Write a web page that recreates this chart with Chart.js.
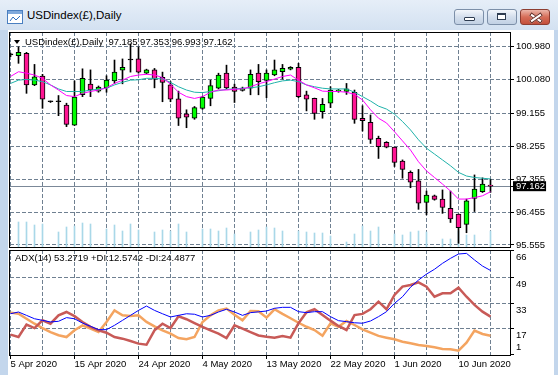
<!DOCTYPE html>
<html>
<head>
<meta charset="utf-8">
<title>USDindex(£),Daily</title>
<script src="https://cdn.jsdelivr.net/npm/chart.js@4.4.1/dist/chart.umd.min.js"></script>
<style>
  html, body { margin: 0; padding: 0; }
  body { width: 558px; height: 375px; overflow: hidden; position: relative;
         background: #c3d6ec; font-family: "Liberation Sans", Arial, sans-serif; }
  #barra { position: absolute; left: 0; top: 0; width: 558px; height: 30px;
           background: linear-gradient(#e6eef8, #d3e1f1); }
  #titulo { position: absolute; left: 27px; top: 9px; font-size: 11.5px; color: #000; }
  #icone { position: absolute; left: 7px; top: 10px; }
  .botao { position: absolute; top: 9px; width: 28px; height: 14px; border: 1px solid #7c8fa8; border-radius: 3px;
           background: linear-gradient(#f3f6fb, #d3deec 50%, #c2d1e4); }
  #fechar { background: linear-gradient(#ecb6a9, #d66d58 50%, #c4503c); border-color: #8d3d31; }
  #cliente { position: absolute; left: 8px; top: 30px; width: 546px; height: 345px; background: #fff; }
  canvas { position: absolute; left: 0; }
  #cvPreco { top: 32px; }
  #cvAdx { top: 248px; }
  .rotulo { position: absolute; font-size: 9.5px; color: #000; white-space: pre; line-height: 11px; z-index: 5; }
</style>
</head>
<body>
<div id="barra"></div>
<svg id="icone" width="16" height="14">
  <rect x="0.5" y="0.5" width="15" height="13" fill="#fff" stroke="#4a7fc0"/>
  <rect x="1" y="1" width="14" height="3" fill="#7fa9dc"/>
  <polyline points="3,11 6,7 9,10 13,6" fill="none" stroke="#2f6fc0" stroke-width="1"/>
</svg>
<div id="titulo">USDindex(£),Daily</div>
<div class="botao" style="left:454px"><div style="position:absolute;left:9px;top:7px;width:9px;height:2px;border:1px solid #2e3c50;background:#fff;border-radius:1px"></div></div>
<div class="botao" style="left:487px"><div style="position:absolute;left:9px;top:3px;width:7px;height:4px;border:1px solid #2e3c50;border-top-width:2px;background:#fff"></div></div>
<div class="botao" id="fechar" style="left:520px">
  <div style="position:absolute;left:8px;top:6px;width:12px;height:2px;background:#fff;border:1px solid #6b2a20;transform:rotate(35deg)"></div>
  <div style="position:absolute;left:8px;top:6px;width:12px;height:2px;background:#fff;border:1px solid #6b2a20;transform:rotate(-35deg)"></div>
</div>
<div id="cliente"></div>

<canvas id="cvPreco" width="558" height="216"></canvas>
<canvas id="cvAdx" width="558" height="127"></canvas>

<div style="position:absolute;left:14px;top:40px;width:0;height:0;border-left:3px solid transparent;border-right:3px solid transparent;border-top:4px solid #000;z-index:5"></div>
<div class="rotulo" style="left:25px;top:36px">USDindex(£),Daily  97.185 97.353 96.993 97.162</div>
<div class="rotulo" style="left:15px;top:252px">ADX(14) 53.2719 +DI:12.5742 -DI:24.4877</div>

<script>
// barras diarias (domingos incluidos, como no MT4)
const datas = ['5 Apr 2020','6 Apr 2020','7 Apr 2020','8 Apr 2020','9 Apr 2020','12 Apr 2020','13 Apr 2020','14 Apr 2020','15 Apr 2020','16 Apr 2020',
  '17 Apr 2020','19 Apr 2020','20 Apr 2020','21 Apr 2020','22 Apr 2020','23 Apr 2020','24 Apr 2020','26 Apr 2020','27 Apr 2020','28 Apr 2020',
  '29 Apr 2020','30 Apr 2020','1 May 2020','3 May 2020','4 May 2020','5 May 2020','6 May 2020','7 May 2020','8 May 2020','10 May 2020',
  '11 May 2020','12 May 2020','13 May 2020','14 May 2020','15 May 2020','17 May 2020','18 May 2020','19 May 2020','20 May 2020','21 May 2020',
  '22 May 2020','24 May 2020','25 May 2020','26 May 2020','27 May 2020','28 May 2020','29 May 2020','31 May 2020','1 Jun 2020','2 Jun 2020',
  '3 Jun 2020','4 Jun 2020','5 Jun 2020','7 Jun 2020','8 Jun 2020','9 Jun 2020','10 Jun 2020','11 Jun 2020','12 Jun 2020','14 Jun 2020',
  '15 Jun 2020'];

const aberturas = [100.75,100.73,100.79,99.93,100.17,99.47,99.47,99.38,98.83,99.66,
  99.95,99.76,99.85,100.04,100.33,100.61,100.64,100.25,100.34,100.14,
  99.93,99.55,99.14,99.02,99.29,99.56,99.84,100.25,99.87,99.78,
  99.84,100.25,100.05,100.20,100.29,100.36,100.41,99.66,99.56,99.20,
  99.43,99.76,99.75,99.73,99.02,98.91,98.47,98.36,98.23,97.85,
  97.54,97.31,96.72,96.90,96.81,96.56,96.40,96.12,96.83,97.01,
  97.185];
const maximas = [100.80,100.97,100.82,100.49,100.22,99.49,99.64,99.43,100.04,100.37,
  100.34,99.90,100.18,100.61,100.64,101.05,100.97,100.36,100.38,100.28,
  100.02,99.76,99.25,99.34,99.62,100.06,100.25,100.47,99.95,99.87,
  100.34,100.49,100.34,100.61,100.49,100.43,100.52,99.76,99.57,99.56,
  99.88,99.81,99.97,99.79,99.36,99.11,98.53,98.38,98.23,97.88,
  97.58,97.62,97.03,96.92,97.06,97.03,96.40,96.81,97.47,97.39,
  97.353];
const minimas = [100.70,100.52,99.70,99.91,99.29,99.45,99.09,98.79,98.82,99.61,
  99.61,99.73,99.73,99.97,99.96,100.28,100.25,100.23,99.85,99.47,
  99.47,98.82,98.76,98.99,99.26,99.36,99.82,99.82,99.45,99.76,
  99.66,99.66,99.58,100.18,100.09,100.34,99.58,99.22,98.99,99.02,
  99.31,99.73,99.67,98.88,98.67,98.33,97.92,98.21,97.70,97.38,
  97.12,96.53,96.38,96.78,96.42,96.17,95.60,95.89,96.47,96.99,
  96.993];
const fechamentos = [100.75,100.82,99.93,100.15,99.54,99.47,99.47,98.85,99.60,100.11,
  99.79,99.87,100.06,100.28,100.41,100.61,100.28,100.34,100.09,100.00,
  99.54,99.02,99.05,99.31,99.60,99.91,100.20,99.85,99.75,99.84,
  100.22,100.02,100.25,100.34,100.38,100.41,99.61,99.54,99.15,99.40,
  99.79,99.79,99.82,98.99,98.95,98.44,98.24,98.23,97.81,97.62,
  97.27,96.70,96.92,96.80,96.58,96.27,96.03,96.76,97.08,97.22,
  97.162];
const volumes = [100,2600,2600,2300,2400,100,1600,2100,2200,2500,
  2400,100,1900,2300,1700,2400,1800,100,1600,1800,
  1700,2400,1600,100,1900,1900,1700,2000,1400,100,
  1600,1800,2100,2000,1700,100,1700,1600,1500,1500,
  1200,100,600,1400,2200,1700,2100,100,1400,1300,
  1600,1700,1600,100,900,900,1700,1300,1300,100,
  1700];

// medias moveis (magenta = rapida, verde-agua = lenta)
const mediaRapida = [100.16,100.29,100.25,100.20,100.11,99.93,99.79,99.64,99.61,99.70,
  99.75,99.79,99.85,99.97,100.06,100.16,100.20,100.22,100.20,100.13,
  99.95,99.73,99.61,99.56,99.61,99.73,99.79,99.79,99.81,99.82,
  99.88,99.96,100.02,100.09,100.16,100.20,100.06,99.93,99.85,99.76,
  99.75,99.75,99.73,99.67,99.52,99.25,99.02,98.89,98.65,98.40,
  98.15,97.83,97.58,97.40,97.22,97.03,96.81,96.81,96.85,96.90,
  97.01];
const mediaLenta = [99.97,100.06,100.08,100.06,100.02,99.93,99.82,99.75,99.75,99.75,
  99.79,99.81,99.84,99.93,100.00,100.06,100.07,100.11,100.11,100.09,
  100.00,99.88,99.79,99.73,99.72,99.75,99.77,99.81,99.82,99.84,
  99.85,99.88,99.93,99.99,100.04,100.06,100.02,99.93,99.88,99.84,
  99.82,99.82,99.82,99.73,99.61,99.49,99.35,99.27,99.13,98.93,
  98.70,98.43,98.20,98.04,97.88,97.72,97.54,97.44,97.40,97.38,
  97.36];

// ADX(14)
const adx = [26.3,27.4,25.3,23.2,22.2,21.2,21.6,23.9,23.2,20.5,
  18.5,16.4,16.4,19.1,22.2,25.3,28.4,31.1,28.4,26.3,
  24.3,25.3,26.3,26.0,24.3,25.3,27.4,29.1,27.4,25.3,
  27.0,27.5,28.0,29.7,30.3,30.3,27.6,27.0,27.6,27.6,
  24.5,22.0,21.4,20.7,20.4,21.8,24.5,27.6,32.8,36.9,
  42.8,47.3,51.0,54.0,57.7,60.8,63.5,63.9,59.8,56.0,
  53.2719];
const diMais = [27.0,26.3,23.2,20.1,17.4,14.9,12.9,11.8,16.0,19.1,
  17.0,14.9,21.2,28.4,25.3,24.9,25.3,21.2,18.5,16.0,
  13.9,11.2,10.4,11.8,21.2,25.3,28.4,29.5,25.7,22.2,
  28.0,27.8,23.9,29.1,26.2,23.5,20.7,18.2,16.2,12.6,
  20.4,18.2,21.8,19.3,16.6,14.5,12.5,11.4,10.4,8.9,
  7.9,6.8,6.2,5.4,4.4,4.2,3.3,8.3,15.8,13.7,
  12.5742];
const diMenos = [13.3,11.8,19.5,17.4,22.2,20.1,25.3,27.4,24.9,21.2,
  18.1,16.0,14.5,11.8,10.8,9.3,7.7,7.0,16.0,20.1,
  17.4,24.7,22.9,20.5,18.1,16.0,13.9,11.2,19.1,17.0,
  14.9,12.8,12.0,11.4,12.5,11.4,20.4,27.2,29.1,25.5,
  22.0,18.7,16.2,25.5,26.2,29.1,33.8,29.1,38.0,43.2,
  44.2,45.9,43.2,36.9,39.0,39.0,42.5,36.9,31.8,27.6,
  24.4877];

const ticksPreco = [95.555, 96.455, 97.355, 98.255, 99.155, 100.080, 100.980];
const ticksAdx = [1, 17, 33, 49, 66];
const precoAtual = 97.162;

const fonteMT = 'Liberation Sans';
const corGrade = '#6f8091';
const tracoGrade = [4, 2];
const passoGrade = 4; // linha vertical a cada 4 barras
const passoData = 8;  // data a cada 8 barras

// marcas do eixo X (indices das barras)
const marcasX = [];
for (let i = 0; i < datas.length; i += passoGrade) marcasX.push(i);

// desloca meio pixel para os pavios ficarem nitidos
const xMin = -0.0625;
const xMax = 62.4375;

// moldura preta + linha do preco atual
const moldura = {
  id: 'moldura',
  beforeDatasetsDraw(chart, args, opts) {
    if (opts.linhaPreco === undefined) return;
    const a = chart.chartArea, ctx = chart.ctx;
    const y = Math.round(chart.scales.y.getPixelForValue(opts.linhaPreco) - 0.5) + 0.5;
    ctx.save();
    ctx.strokeStyle = '#7b8898';
    ctx.lineWidth = 1;
    ctx.beginPath();
    ctx.moveTo(a.left, y);
    ctx.lineTo(a.right, y);
    ctx.stroke();
    ctx.restore();
  },
  afterDatasetsDraw(chart) {
    const a = chart.chartArea, ctx = chart.ctx;
    ctx.save();
    ctx.strokeStyle = '#000';
    ctx.lineWidth = 1;
    ctx.strokeRect(a.left - 0.5, a.top + 0.5, a.right - a.left + 1, a.bottom - a.top - 1);
    ctx.restore();
  }
};

// eixo com tamanho fixo, sem folga extra para os rotulos
function fixarEixo(largura, altura) {
  return s => {
    if (largura !== null) s.width = largura;
    if (altura !== null) s.height = altura;
    s.paddingTop = 0;
    s.paddingBottom = 0;
    s.paddingLeft = 0;
    s.paddingRight = 0;
  };
}

function pontos(lista) {
  return lista.map((v, i) => ({x: i, y: v}));
}

function gerarGraficoPreco() {
  const ctx = document.getElementById('cvPreco').getContext('2d');

  const corpos = aberturas.map((o, i) => ({x: i, y: [o, fechamentos[i]]}));
  const pavios = minimas.map((l, i) => ({x: i, y: [l, maximas[i]]}));
  const coresCorpo = aberturas.map((o, i) =>
    fechamentos[i] > o ? '#00ff00' : (fechamentos[i] < o ? '#ff1493' : '#000000'));

  new Chart(ctx, {
    type: 'line',
    data: {
      datasets: [
        { type: 'line', data: pontos(mediaRapida), borderColor: '#ff00ff', borderWidth: 1,
          pointRadius: 0, tension: 0, order: 1 },
        { type: 'line', data: pontos(mediaLenta), borderColor: '#20b2aa', borderWidth: 1,
          pointRadius: 0, tension: 0, order: 2 },
        { type: 'bar', data: corpos, backgroundColor: coresCorpo, borderColor: '#000',
          borderWidth: 1, borderSkipped: false, barThickness: 5, minBarLength: 1,
          grouped: false, order: 3 },
        { type: 'bar', data: pavios, backgroundColor: '#000', borderWidth: 0,
          barThickness: 1, grouped: false, order: 4 },
        { type: 'bar', data: pontos(volumes), yAxisID: 'vol', backgroundColor: '#a9d8e8',
          borderWidth: 0, barThickness: 1, grouped: false, order: 5 }
      ]
    },
    options: {
      responsive: false,
      animation: false,
      devicePixelRatio: 1,
      layout: { padding: { left: 10, top: 0, right: 0, bottom: 0 } },
      plugins: {
        legend: { display: false },
        tooltip: { enabled: false },
        moldura: { linhaPreco: precoAtual }
      },
      scales: {
        x: {
          type: 'linear', min: xMin, max: xMax, offset: false, bounds: 'data',
          afterBuildTicks: s => { s.ticks = marcasX.map(v => ({value: v})); },
          afterFit: fixarEixo(null, 0),
          ticks: { display: false },
          grid: { color: corGrade, drawTicks: false, offset: false },
          border: { display: false, dash: tracoGrade }
        },
        y: {
          type: 'linear', position: 'right', min: 95.473, max: 101.376, bounds: 'data',
          afterBuildTicks: s => { s.ticks = ticksPreco.concat([precoAtual]).map(v => ({value: v})); },
          afterFit: fixarEixo(48, null),
          ticks: {
            autoSkip: false,
            padding: 2,
            font: { family: fonteMT, size: 9.5, lineHeight: 1.05 },
            color: c => c.tick.value === precoAtual ? '#fff' : '#000',
            showLabelBackdrop: c => c.tick.value === precoAtual,
            backdropColor: '#000',
            backdropPadding: { top: 0, bottom: 0, left: 3, right: 1 },
            callback: v => v.toFixed(3)
          },
          grid: {
            color: c => c.tick.value === precoAtual ? 'rgba(0,0,0,0)' : corGrade,
            tickColor: '#000',
            tickLength: 4
          },
          border: { display: false, dash: tracoGrade }
        },
        vol: { type: 'linear', display: false, min: 0, max: 21600 }
      }
    },
    plugins: [moldura]
  });
}

function gerarGraficoAdx() {
  const ctx = document.getElementById('cvAdx').getContext('2d');

  new Chart(ctx, {
    type: 'line',
    data: {
      datasets: [
        { data: pontos(adx), borderColor: '#0000ff', borderWidth: 1, pointRadius: 0, tension: 0, order: 1 },
        { data: pontos(diMenos), borderColor: '#c85a57', borderWidth: 2.5, pointRadius: 0, tension: 0, order: 2 },
        { data: pontos(diMais), borderColor: '#f4a460', borderWidth: 2.5, pointRadius: 0, tension: 0, order: 3 }
      ]
    },
    options: {
      responsive: false,
      animation: false,
      devicePixelRatio: 1,
      layout: { padding: { left: 10, top: 2, right: 0, bottom: 0 } },
      plugins: {
        legend: { display: false },
        tooltip: { enabled: false },
        moldura: {}
      },
      scales: {
        x: {
          type: 'linear', min: xMin, max: xMax, offset: false, bounds: 'data',
          afterBuildTicks: s => { s.ticks = marcasX.map(v => ({value: v})); },
          afterFit: fixarEixo(null, 19),
          ticks: {
            autoSkip: false, maxRotation: 0, minRotation: 0, align: 'start', padding: 0,
            font: { family: fonteMT, size: 9.5 },
            color: '#000',
            callback: v => v % passoData === 0 ? datas[v] : ''
          },
          grid: {
            color: corGrade,
            tickLength: 3,
            tickColor: c => c.tick.value % passoData === 0 ? '#000' : 'rgba(0,0,0,0)'
          },
          border: { display: false, dash: tracoGrade }
        },
        y: {
          type: 'linear', position: 'right', min: 0, max: 66, bounds: 'data',
          afterBuildTicks: s => { s.ticks = ticksAdx.map(v => ({value: v})); },
          afterFit: fixarEixo(48, null),
          ticks: {
            autoSkip: false,
            padding: 2,
            font: { family: fonteMT, size: 9.5, lineHeight: 1.5 },
            color: '#000',
            // rotulo abaixo da linha (o de baixo fica acima)
            callback: v => v === ticksAdx[0] ? [String(v), ''] : ['', String(v)]
          },
          grid: {
            color: c => (c.tick.value === ticksAdx[0] || c.tick.value === ticksAdx[ticksAdx.length - 1]) ? 'rgba(0,0,0,0)' : corGrade,
            tickColor: '#000',
            tickLength: 4
          },
          border: { display: false, dash: tracoGrade }
        }
      }
    },
    plugins: [moldura]
  });
}

gerarGraficoPreco();
gerarGraficoAdx();
</script>
</body>
</html>
